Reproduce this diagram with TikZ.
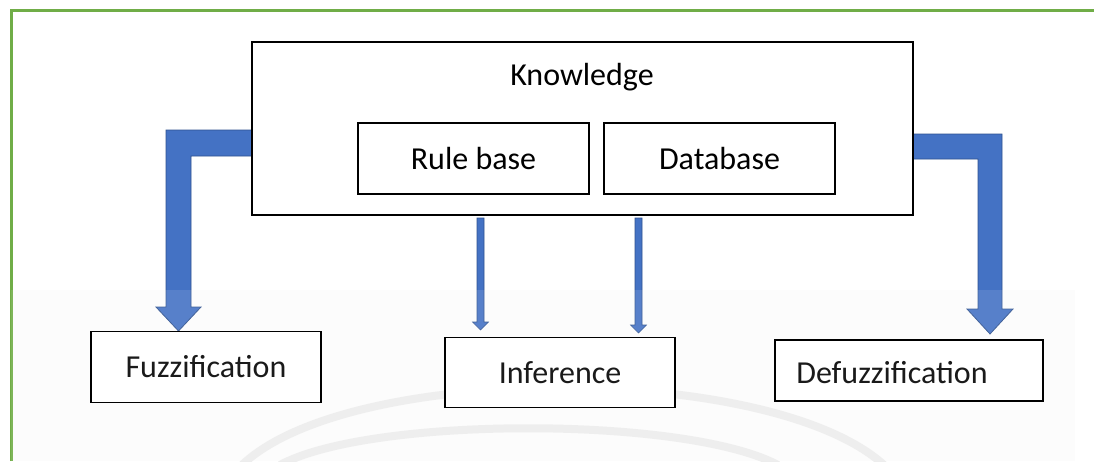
\documentclass[tikz,border=0pt]{standalone}
\usepackage{fontspec}
\setmainfont{Carlito}
\definecolor{frameGreen}{HTML}{70AD47}
\definecolor{arrowFill}{HTML}{4472C4}
\definecolor{arrowEdge}{HTML}{2F528F}
\definecolor{markGray}{HTML}{EDEDED}
\tikzset{
  box/.style={draw=black, fill=white, line width=1.6pt, inner sep=0pt, outer sep=0pt},
  bigbox/.style={box, line width=2.6pt},
  txt/.style={font=\fontsize{32}{38}\selectfont, inner sep=0pt, text=black},
  blockarrow/.style={fill=arrowFill, draw=arrowEdge, line width=0.8pt, line join=miter},
  watermark/.style={draw=markGray, line width=8pt}
}
\begin{document}
\begin{tikzpicture}[x=1pt,y=-1pt]
\useasboundingbox (0,0) rectangle (1094,461);
\fill[white] (0,0) rectangle (1094,461);
% lower panel and faint seal behind the boxes
\fill[black!1.2] (11,290) rectangle (1075,461);
\draw[watermark] (242,465) .. controls (350,362) and (770,362) .. (884,465);
\draw[watermark] (280,465) .. controls (370,416) and (686,416) .. (778,465);
% page frame
\draw[frameGreen, line width=3pt] (11,461) -- (11,10) -- (1094,10);

% knowledge block and its two parts
\node[bigbox, minimum width=661pt, minimum height=173pt] (know) at (582.5,128.5) {};
\node[txt] (knowt) at (582,77) {Knowledge};
\node[box, minimum width=231pt, minimum height=71pt, txt] (rule) at (473.5,158.5) {Rule base};
\node[box, minimum width=231pt, minimum height=71pt, txt] (data) at (719.5,158.5) {Database};

% processing stages
\node[box, minimum width=230pt, minimum height=71pt, txt] (fuzz) at (206,367) {Fuzzification};
\node[box, minimum width=230pt, minimum height=70pt, txt] (inf) at (560,372.5) {Inference};
\node[box, minimum width=268pt, minimum height=61pt] (defuzz) at (909,370.5) {};
\node[txt] (defuzzt) at (892,373) {Defuzzification};

% elbow arrow: knowledge -> fuzzification
\fill[blockarrow] (know.west |- 0,130) -- (166,130) -- (166,307) -- (156,307)
  -- (178.5,331) -- (201,307) -- (191,307) -- (191,156) -- (know.west |- 0,156) -- cycle;
% elbow arrow: knowledge -> defuzzification
\fill[blockarrow] (know.east |- 0,134) -- (1002,134) -- (1002,309) -- (1013,309)
  -- (990,334) -- (967,309) -- (978,309) -- (978,159) -- (know.east |- 0,159) -- cycle;
% thin arrows: rule base and database -> inference
\fill[blockarrow, line width=0.6pt] (477,218) -- (484,218) -- (484,322) -- (488.5,322)
  -- (480.5,330) -- (472.5,322) -- (477,322) -- cycle;
\fill[blockarrow, line width=0.6pt] (635,218) -- (642,218) -- (642,325) -- (646.5,325)
  -- (638.5,333) -- (630.5,325) -- (635,325) -- cycle;
% light veil over the lower panel
\fill[white, opacity=0.1] (11,290) rectangle (1075,461);

% redraw box outlines above the arrow ends
\draw[line width=2.6pt] (know.north west) rectangle (know.south east);
\draw[line width=1.6pt] (fuzz.north west) rectangle (fuzz.south east);
\draw[line width=1.6pt] (inf.north west) rectangle (inf.south east);
\draw[line width=1.6pt] (defuzz.north west) rectangle (defuzz.south east);
\end{tikzpicture}
\end{document}
